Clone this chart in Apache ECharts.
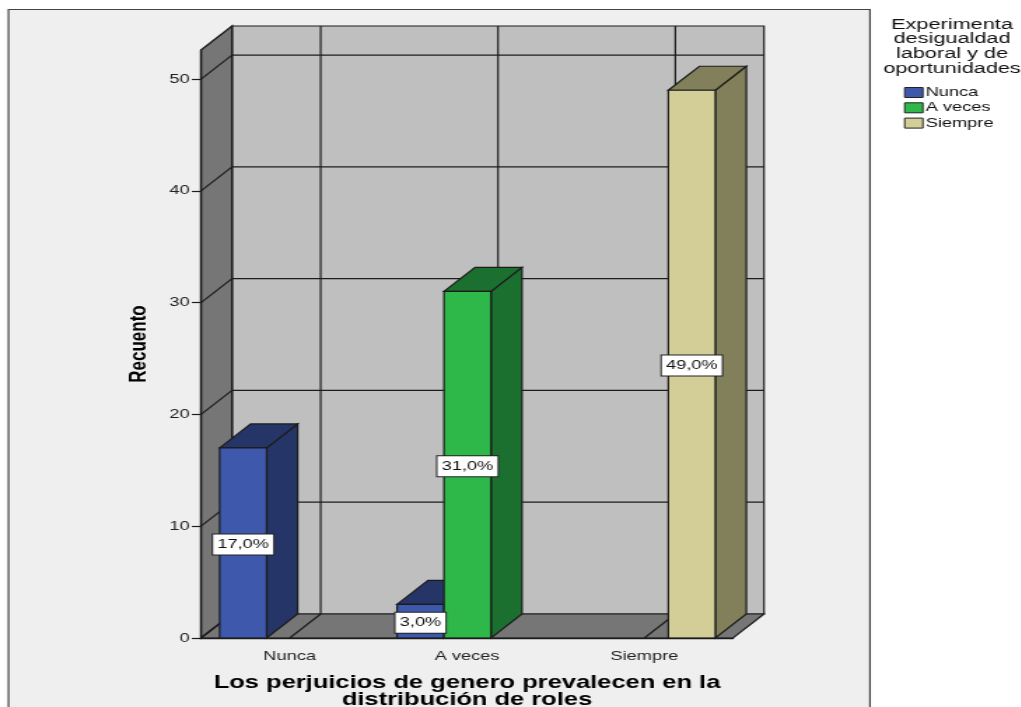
<!DOCTYPE html>
<html>
<head>
<meta charset="utf-8">
<style>
html,body{margin:0;padding:0;background:#fff;width:1021px;height:707px;overflow:hidden}
#main{position:absolute;left:0;top:0;width:730px;height:707px;transform:scaleX(1.4);transform-origin:0 0}
</style>
<script src="https://cdn.jsdelivr.net/npm/echarts@6/dist/echarts.min.js"></script>
</head>
<body>
<div id="main"></div>
<script>
// Data
const categories = ['Nunca', 'A veces', 'Siempre'];
const seriesNames = ['Nunca', 'A veces', 'Siempre'];
const nunca   = [17, 3, null];
const aVeces  = [null, 31, null];
const siempre = [null, null, 49];
const yTicks = [0, 10, 20, 30, 40, 50];
const legendTitle = 'Experimenta\ndesigualdad\nlaboral y de\noportunidades';
const xTitle = 'Los perjuicios de genero prevalecen en la\ndistribución de roles';
const yTitle = 'Recuento';

// Styling
const S = 1.4;                 // the reference is stretched horizontally
const frontColors = ['#3e58ac', '#2eb84a', '#d3ce97'];
const darkColors  = ['#263567', '#1b7030', '#82805a'];
const LINE = '#1c1c1c';
const DX = 31 / S, DY = 24;    // depth of the 3D box
const FONT = '"Liberation Sans", Arial, sans-serif';

const chart = echarts.init(document.getElementById('main'));

function renderWalls(params, api) {
  const cs = params.coordSys;
  const x0 = cs.x, x1 = cs.x + cs.width, yT = cs.y, yB = cs.y + cs.height;
  const ls = { stroke: LINE, lineWidth: 1.2, fill: null };
  const kids = [
    { type: 'polygon', shape: { points: [[x0 + DX, yT - DY], [x1 + DX, yT - DY], [x1 + DX, yB - DY], [x0 + DX, yB - DY]] },
      style: { fill: '#bfbfbf', stroke: LINE, lineWidth: 1.2 } },
    { type: 'polygon', shape: { points: [[x0, yT], [x0 + DX, yT - DY], [x0 + DX, yB - DY], [x0, yB]] },
      style: { fill: '#767676', stroke: LINE, lineWidth: 1.4 } },
    { type: 'polygon', shape: { points: [[x0, yB], [x0 + DX, yB - DY], [x1 + DX, yB - DY], [x1, yB]] },
      style: { fill: '#767676', stroke: LINE, lineWidth: 1.2 } }
  ];
  yTicks.forEach(function (t) {
    const y = api.coord([0, t])[1];
    kids.push({ type: 'line', shape: { x1: x0, y1: y, x2: x0 + DX, y2: y - DY }, style: ls });
    if (t > 0) kids.push({ type: 'line', shape: { x1: x0 + DX, y1: y - DY, x2: x1 + DX, y2: y - DY }, style: ls });
  });
  categories.forEach(function (c, i) {
    const x = api.coord([i, 0])[0];
    kids.push({ type: 'line', shape: { x1: x, y1: yB, x2: x + DX, y2: yB - DY }, style: ls });
    kids.push({ type: 'line', shape: { x1: x + DX, y1: yB - DY, x2: x + DX, y2: yT - DY }, style: ls });
  });
  return { type: 'group', children: kids };
}

function barRenderer(si) {
  return function (params, api) {
    const v = api.value(1);
    if (v == null || isNaN(v)) return;
    const band = api.size([1, 0])[0];
    const w = band * 0.265;
    const cx = api.coord([api.value(0), 0])[0] + (si - 1) * w + 0.35;
    const yTop = api.coord([0, v])[1], yBot = api.coord([0, 0])[1];
    const xL = cx - w / 2, xR = cx + w / 2;
    const st = function (f) { return { fill: f, stroke: LINE, lineWidth: 1.2 }; };
    return {
      type: 'group',
      children: [
        { type: 'polygon', shape: { points: [[xR, yTop], [xR + DX, yTop - DY], [xR + DX, yBot - DY], [xR, yBot]] }, style: st(darkColors[si]) },
        { type: 'polygon', shape: { points: [[xL, yTop], [xL + DX, yTop - DY], [xR + DX, yTop - DY], [xR, yTop]] }, style: st(darkColors[si]) },
        { type: 'rect', shape: { x: xL, y: yTop, width: w, height: yBot - yTop }, style: st(frontColors[si]) },
        { type: 'text', z2: 50, style: {
            text: v.toFixed(1).replace('.', ',') + '%',
            x: cx, y: (yTop + yBot) / 2 + 1.5, align: 'center', verticalAlign: 'middle',
            font: '13px ' + FONT, fill: '#111',
            backgroundColor: '#fff', borderColor: '#222', borderWidth: 1, padding: [4, 3, 3, 3]
        } }
      ]
    };
  };
}

function seriesData(arr) { return arr.map(function (v, i) { return [i, v]; }); }

chart.setOption({
  animation: false,
  backgroundColor: '#fff',
  color: frontColors,
  textStyle: { fontFamily: FONT },
  title: {
    text: legendTitle, left: 945 / S, top: 12, textAlign: 'center',
    textStyle: { fontFamily: FONT, fontSize: 15.5, lineHeight: 14.8, fontWeight: 'normal', color: '#111' }
  },
  legend: {
    orient: 'vertical', left: 904 / S, top: 86, padding: 0, itemGap: 2.3,
    itemWidth: 13, itemHeight: 10, itemStyle: { borderColor: '#222', borderWidth: 1 },
    icon: 'rect', textStyle: { fontFamily: FONT, fontSize: 13, color: '#111', padding: [0, 0, 0, -3] },
    data: seriesNames
  },
  grid: { left: 201 / S, width: 532 / S, top: 50, height: 588, outerBoundsMode: 'none' },
  xAxis: {
    type: 'category', data: categories, z: 5,
    axisLine: { lineStyle: { color: LINE, width: 1.4 } },
    axisTick: { alignWithLabel: true, length: 8, lineStyle: { color: LINE, width: 1.2 } },
    axisLabel: { fontFamily: FONT, fontSize: 13, color: '#222', margin: 12 },
    name: xTitle, nameLocation: 'middle', nameGap: 36,
    nameTextStyle: { fontFamily: FONT, fontSize: 18.2, lineHeight: 17, fontWeight: 'bold', color: '#000' }
  },
  yAxis: {
    type: 'value', min: 0, max: 52.6, z: 5,
    splitLine: { show: false },
    axisLine: { show: true, lineStyle: { color: LINE, width: 1.2 } },
    axisTick: { show: true, length: 6.5, customValues: yTicks, lineStyle: { color: LINE, width: 1.2 } },
    axisLabel: { fontFamily: FONT, fontSize: 13, color: '#222', margin: 8, padding: [3, 0, 0, 0], customValues: yTicks },
    name: yTitle, nameLocation: 'middle', nameGap: 35.5, nameRotate: 90,
    nameTextStyle: { fontFamily: FONT, fontSize: 17, fontWeight: 'bold', color: '#000' }
  },
  graphic: [{
    type: 'rect', z: -10, silent: true,
    shape: { x: 8.5 / S, y: 9.5, width: 861.5 / S, height: 720 },
    style: { fill: '#efefef', stroke: '#444', lineWidth: 1.2 }
  }],
  series: [
    { type: 'custom', name: '_walls', z: 1, silent: true, renderItem: renderWalls, data: [[0, 0]], encode: { x: 0, y: 1 }, clip: false },
    { type: 'custom', name: seriesNames[0], z: 2, renderItem: barRenderer(0), data: seriesData(nunca), encode: { x: 0, y: 1 }, itemStyle: { color: frontColors[0] } },
    { type: 'custom', name: seriesNames[1], z: 2, renderItem: barRenderer(1), data: seriesData(aVeces), encode: { x: 0, y: 1 }, itemStyle: { color: frontColors[1] } },
    { type: 'custom', name: seriesNames[2], z: 2, renderItem: barRenderer(2), data: seriesData(siempre), encode: { x: 0, y: 1 }, itemStyle: { color: frontColors[2] } }
  ]
});
</script>
</body>
</html>
